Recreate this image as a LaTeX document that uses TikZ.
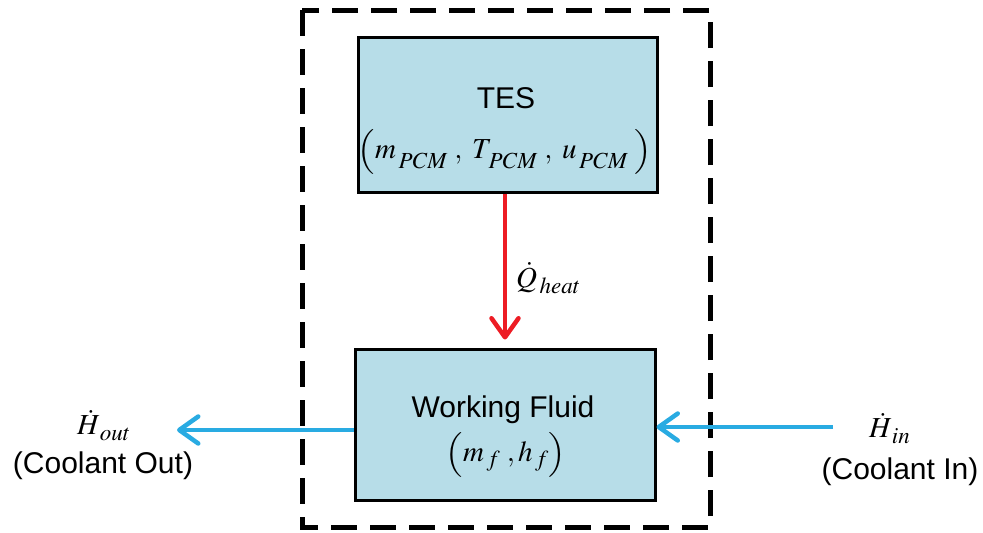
\documentclass[tikz,border=0pt]{standalone}
\usepackage{mathptmx}
\usepackage[no-math]{fontspec}
\setmainfont{Liberation Sans}
\usetikzlibrary{arrows.meta}
\DeclareMathSizes{29}{29}{23}{18}
\newcommand\lsub[2][3pt]{_{\,\raisebox{-#1}{$\scriptstyle #2$}}}
\newcommand\myopen{\mathopen{\scalebox{1}[0.86]{$\Bigl($}}}
\newcommand\myclose{\mathclose{\scalebox{1}[0.86]{$\Bigr)$}}}
\definecolor{boxfill}{HTML}{B7DDE8}
\definecolor{flowred}{HTML}{ED1C24}
\definecolor{flowblue}{HTML}{29ABE2}
\begin{document}
\begin{tikzpicture}[x=1pt,y=-1pt,
  blockbox/.style={draw=black, line width=3pt, fill=boxfill, minimum width=#1, inner sep=0pt},
  lbl/.style={inner sep=0pt, font=\fontsize{30}{36}\selectfont},
  mlbl/.style={inner sep=0pt, font=\fontsize{29}{34}\selectfont},
  flow/.style={line width=4.5pt, -{Straight Barb[length=19pt,width=27pt,line cap=round,line join=round]}},
  boundary/.style={draw=black, line width=5pt, dash pattern=on 26pt off 13pt}]
\useasboundingbox (0,0) rectangle (983,533);
\draw[boundary] (302,10) rectangle (710,527);
\node[blockbox=299pt, minimum height=155pt] (tes) at (507.5,114.5) {};
\node[blockbox=300pt, minimum height=151pt] (wf) at (505,424.5) {};
\node[lbl] (testitle) at (506,98) {TES};
\node[mlbl, anchor=base] (tesvars) at (505,158) {$\myopen m\lsub[6pt]{PCM}\;,\;T\lsub[6pt]{PCM}\;,\;u\lsub[6pt]{PCM}\;\myclose$};
\node[lbl] (wftitle) at (503,410) {Working Fluid};
\node[mlbl, anchor=base] (wfvars) at (506,461) {$\myopen m\lsub[1pt]{f}\;,h\lsub[1pt]{f}\myclose$};
\draw[flow, flowred, shorten >=8pt] (tes.south -| 505,0) -- (wf.north -| 505,0);
\node[mlbl, anchor=base west] (qheat) at (516,287) {$\dot{Q}\lsub[2pt]{heat}$};
\coordinate (outend) at (177,430);
\coordinate (instart) at (833,427);
\draw[flow, flowblue] (wf.west |- outend) -- (outend);
\draw[flow, flowblue] (instart) -- (wf.east |- instart);
\node[mlbl, anchor=base west] (hout) at (77,434) {$\dot{H}\lsub[2pt]{out}$};
\node[lbl] (coolout) at (103,466) {(Coolant Out)};
\node[mlbl, anchor=base west] (hin) at (869,437) {$\dot{H}\lsub[2pt]{in}$};
\node[lbl] (coolin) at (900,472) {(Coolant In)};
\end{tikzpicture}
\end{document}
